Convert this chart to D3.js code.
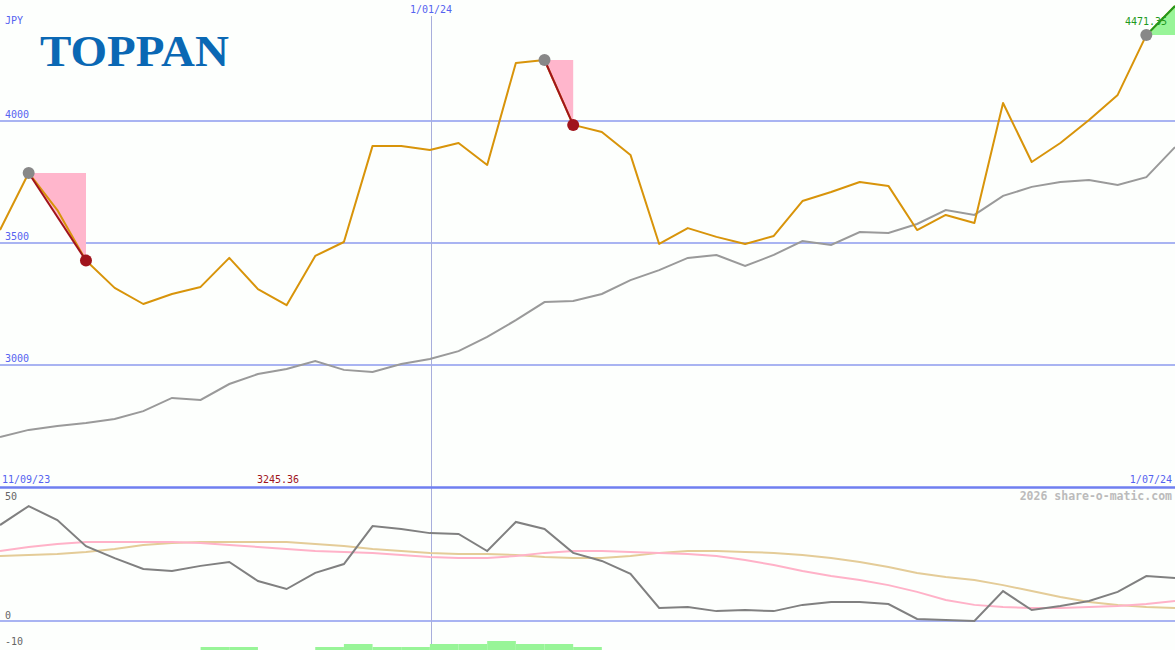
<!DOCTYPE html>
<html>
<head>
<meta charset="utf-8">
<script src="https://cdn.jsdelivr.net/npm/d3@7/dist/d3.min.js"></script>
<style>
  html, body { margin: 0; padding: 0; background: #fdfffd; }
  svg { display: block; }
  text { font-family: "DejaVu Sans Mono", monospace; }
  text.logo { font-family: "Liberation Serif", "DejaVu Serif", serif; font-weight: bold; }
</style>
</head>
<body>
<svg id="chart" width="1175" height="650"></svg>
<script>
// ---- data (weekly closes, JPY) ----
const startDate = "2023-09-18";
const price = [3553, 3787, 3635, 3428, 3316, 3250, 3291, 3320, 3439, 3311,
  3245.36, 3447, 3504, 3898, 3898, 3881, 3910, 3820, 4238, 4250,
  3984, 3955, 3861, 3496, 3561, 3525, 3496, 3529, 3672, 3709,
  3750, 3734, 3553, 3615, 3582, 4074, 3832, 3910, 4004, 4107,
  4352, 4471.35];
const avgLine = [2705, 2734, 2750, 2762, 2779, 2811, 2865, 2857, 2922, 2963,
  2984, 3016, 2980, 2971, 3004, 3025, 3057, 3115, 3184, 3258,
  3262, 3291, 3348, 3389, 3439, 3451, 3406, 3451, 3508, 3492,
  3545, 3541, 3578, 3635, 3615, 3693, 3730, 3750, 3758, 3738,
  3770, 3893];
const oscGray = [36.9, 44.2, 38.8, 28.8, 24.2, 20.0, 19.2, 21.2, 22.7, 15.4,
  12.3, 18.5, 21.9, 36.5, 35.4, 33.8, 33.5, 26.9, 38.1, 35.4,
  26.2, 23.1, 18.1, 5.0, 5.4, 3.8, 4.2, 3.8, 6.2, 7.3,
  7.3, 6.5, 0.8, 0.4, 0.0, 11.5, 4.2, 5.8, 7.7, 11.2,
  17.3, 16.5];
const oscPink = [26.9, 28.5, 29.6, 30.4, 30.4, 30.4, 30.4, 30.0, 29.2, 28.5,
  27.7, 26.9, 26.5, 26.2, 25.4, 24.6, 24.2, 24.2, 25.0, 26.2,
  26.9, 26.9, 26.5, 26.2, 25.8, 25.0, 23.5, 21.5, 19.2, 17.3,
  15.8, 13.8, 11.2, 8.1, 6.2, 5.4, 5.0, 5.0, 5.4, 5.8,
  6.5, 7.7];
const oscTan = [25.0, 25.4, 25.8, 26.5, 27.7, 29.2, 30.0, 30.4, 30.4, 30.4,
  30.4, 29.6, 28.8, 27.7, 26.9, 26.2, 25.8, 25.8, 25.4, 24.6,
  24.2, 24.2, 25.0, 26.2, 26.9, 26.9, 26.5, 26.2, 25.4, 24.2,
  22.7, 20.8, 18.5, 16.9, 15.8, 13.8, 11.5, 9.2, 7.3, 6.2,
  5.4, 5.0];
// bottom histogram: value per weekly interval (starting at point i)
const histo = [0, 0, 0, 0, 0, 0, 0, 1, 1, 0,
  0, 1, 2, 1, 1, 2, 2, 3, 2, 2,
  1, 0, 0, 0, 0, 0, 0, 0, 0, 0,
  0, 0, 0, 0, 0, 0, 0, 0, 0, 0,
  0];
const priceTicks = [4000, 3500, 3000];
const oscTicks = [50, 0, -10];
const markDate = "2024-01-01";
const labels = { left: "11/09/23", right: "1/07/24", mid: "1/01/24", unit: "JPY",
  minLabel: "3245.36", lastLabel: "4471.35", credit: "2026 share-o-matic.com", name: "TOPPAN" };
// drop events: [from index, to index]
const drops = [[1, 3], [19, 20]];
const rise = [40, 41];

// ---- drawing ----
const W = 1175, H = 650;
const svg = d3.select("#chart");
const parse = d3.utcParse("%Y-%m-%d");
const d0 = parse(startDate);
const dates = price.map((_, i) => d3.utcDay.offset(d0, i * 7));

const x = d3.scaleUtc().domain([dates[0], dates[dates.length - 1]]).range([0, W]);
const y = d3.scaleLinear().domain([3000, 4000]).range([365, 121]);
const yo = d3.scaleLinear().domain([0, 50]).range([621, 491]);
const yh = d3.scaleLinear().domain([0, 1]).range([650, 647]);

const blue = "#5563f0";
const gridC = "#a9b4f2";

// grid lines main
svg.append("g").selectAll("line").data(priceTicks).join("line")
  .attr("x1", 0).attr("x2", W)
  .attr("y1", d => Math.round(y(d))).attr("y2", d => Math.round(y(d)))
  .attr("stroke", gridC).attr("stroke-width", 2).attr("shape-rendering", "crispEdges");
svg.append("g").selectAll("text").data(priceTicks).join("text")
  .attr("x", 5).attr("y", d => Math.round(y(d)) - 3)
  .attr("fill", blue).attr("font-size", 10).text(d => d);

// oscillator zero line
svg.append("line").attr("x1", 0).attr("x2", W)
  .attr("y1", yo(0)).attr("y2", yo(0))
  .attr("stroke", gridC).attr("stroke-width", 2).attr("shape-rendering", "crispEdges");

// vertical date line
const xm = Math.round(x(parse(markDate))) + 1;
svg.append("line").attr("x1", xm + 0.5).attr("x2", xm + 0.5).attr("y1", 16).attr("y2", H)
  .attr("stroke", "#a8aedc").attr("stroke-width", 1);
svg.append("text").attr("x", xm).attr("y", 13).attr("text-anchor", "middle")
  .attr("fill", blue).attr("font-size", 10).text(labels.mid);

// unit
svg.append("text").attr("x", 5).attr("y", 24).attr("fill", blue).attr("font-size", 10).text(labels.unit);

// logo
svg.append("text").attr("class", "logo").attr("x", 40).attr("y", 66)
  .attr("font-size", 44).attr("fill", "#0a68b4")
  .attr("textLength", 189).attr("lengthAdjust", "spacingAndGlyphs")
  .text(labels.name);

// drop triangles (pink)
drops.forEach(([a, b]) => {
  svg.append("path")
    .attr("d", d3.line()([[x(dates[a]), y(price[a])], [x(dates[b]), y(price[a])], [x(dates[b]), y(price[b])]]) + "Z")
    .attr("fill", "#ffb6cc");
});
// rise triangle (green)
svg.append("path")
  .attr("d", d3.line()([[x(dates[rise[0]]), y(price[rise[0]])], [x(dates[rise[1]]), y(price[rise[0]])], [x(dates[rise[1]]), y(price[rise[1]])]]) + "Z")
  .attr("fill", "#98f598");

// average line
const line = d3.line().x((d, i) => x(dates[i])).y(d => y(d));
svg.append("path").datum(avgLine).attr("d", line)
  .attr("fill", "none").attr("stroke", "#9a9a9a").attr("stroke-width", 2);

// price line
svg.append("path").datum(price).attr("d", line)
  .attr("fill", "none").attr("stroke", "#d8940a").attr("stroke-width", 2).attr("stroke-linejoin", "round");

// drop connector lines
drops.forEach(([a, b]) => {
  svg.append("line")
    .attr("x1", x(dates[a])).attr("y1", y(price[a]))
    .attr("x2", x(dates[b])).attr("y2", y(price[b]))
    .attr("stroke", "#a0141c").attr("stroke-width", 2);
});
svg.append("line")
  .attr("x1", x(dates[rise[0]])).attr("y1", y(price[rise[0]]))
  .attr("x2", x(dates[rise[1]])).attr("y2", y(price[rise[1]]))
  .attr("stroke", "#1e9a1e").attr("stroke-width", 2);

// markers
drops.forEach(([a, b]) => {
  svg.append("circle").attr("cx", x(dates[a])).attr("cy", y(price[a])).attr("r", 6).attr("fill", "#888888");
  svg.append("circle").attr("cx", x(dates[b])).attr("cy", y(price[b])).attr("r", 6).attr("fill", "#a0141c");
});
svg.append("circle").attr("cx", x(dates[rise[0]])).attr("cy", y(price[rise[0]])).attr("r", 6).attr("fill", "#888888");

// last price label
svg.append("text").attr("x", 1125).attr("y", 25).attr("fill", "#1e9a1e").attr("font-size", 10).text(labels.lastLabel);

// separator
svg.append("line").attr("x1", 0).attr("x2", W).attr("y1", 487.5).attr("y2", 487.5)
  .attr("stroke", "#6f7ff0").attr("stroke-width", 2.5);
svg.append("text").attr("x", 2).attr("y", 483).attr("fill", blue).attr("font-size", 10).text(labels.left);
svg.append("text").attr("x", 1172).attr("y", 483).attr("text-anchor", "end").attr("fill", blue).attr("font-size", 10).text(labels.right);
svg.append("text").attr("x", 257).attr("y", 483).attr("fill", "#a0141c").attr("font-size", 10).text(labels.minLabel);
svg.append("text").attr("x", 1172).attr("y", 500).attr("text-anchor", "end").attr("fill", "#bbbbbb")
  .attr("font-size", 11.5).attr("font-weight", "bold").text(labels.credit);

// oscillator tick labels
svg.append("g").selectAll("text").data(oscTicks).join("text")
  .attr("x", 5).attr("y", d => d === 50 ? 500 : (d === 0 ? 619 : 645))
  .attr("fill", "#666").attr("font-size", 10).text(d => d);

// histogram bars
svg.append("g").selectAll("rect").data(histo.map((v, i) => ({ v, i })).filter(d => d.v > 0)).join("rect")
  .attr("x", d => x(dates[d.i])).attr("width", d => x(dates[d.i + 1]) - x(dates[d.i]))
  .attr("y", d => yh(d.v)).attr("height", d => yh(0) - yh(d.v))
  .attr("fill", "#98f598");

// oscillator lines
const oline = d3.line().x((d, i) => x(dates[i])).y(d => yo(d));
svg.append("path").datum(oscTan).attr("d", oline).attr("fill", "none").attr("stroke", "#e4cc98").attr("stroke-width", 2);
svg.append("path").datum(oscPink).attr("d", oline).attr("fill", "none").attr("stroke", "#ffb2c8").attr("stroke-width", 2);
svg.append("path").datum(oscGray).attr("d", oline).attr("fill", "none").attr("stroke", "#808080").attr("stroke-width", 2);
</script>
</body>
</html>
